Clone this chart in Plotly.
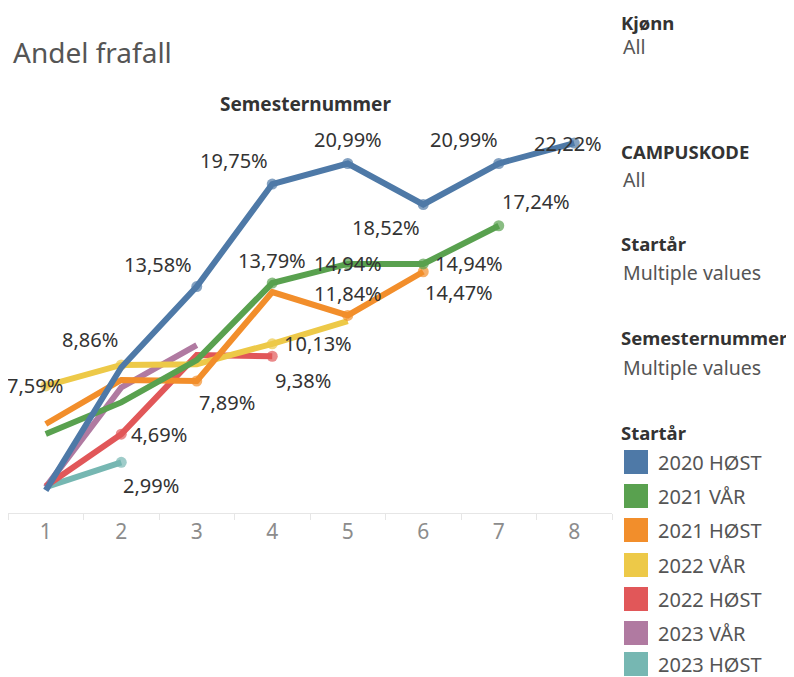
import plotly.graph_objects as go

# semester numbers on the x axis
semesters = [1, 2, 3, 4, 5, 6, 7, 8]

# dropout share (%) per start cohort
names = ["2020 HØST", "2021 VÅR", "2021 HØST", "2022 VÅR", "2022 HØST", "2023 VÅR", "2023 HØST"]
colors = ["#4e79a7", "#59a14f", "#f28e2b", "#edc948", "#e15759", "#b07aa1", "#76b7b2"]

v2020_host = [1.30, 8.70, 13.58, 19.75, 20.99, 18.52, 20.99, 22.22]
v2021_var = [4.70, 6.60, 9.15, 13.79, 14.94, 14.94, 17.24]
v2021_host = [5.30, 7.95, 7.89, 13.25, 11.84, 14.47]
v2022_var = [7.59, 8.86, 8.90, 10.13, 11.50]
v2022_host = [1.55, 4.69, 9.45, 9.38]
v2023_var = [1.50, 7.50, 10.05]
v2023_host = [1.50, 2.99]

series = [v2020_host, v2021_var, v2021_host, v2022_var, v2022_host, v2023_var, v2023_host]

# which points carry a label: (series index, point index, xshift, yshift)
labels = [
    (0, 2, -39, 22), (0, 3, -38, 24), (0, 4, 0, 24), (0, 5, -37, -23),
    (0, 6, -35, 24), (0, 7, -6, 0),
    (1, 3, 0, 23), (1, 4, 0, 0), (1, 5, 46, 0), (1, 6, 37, 24),
    (2, 2, 30, -21), (2, 4, 0, 22), (2, 5, 36, -21),
    (3, 0, -11, 0), (3, 1, -31, 25), (3, 3, 46, 0),
    (4, 1, 38, 0), (4, 3, 31, -24),
    (6, 1, 30, -23),
]

# page body has an 8px margin, so the figure sits at (8, 8)
OFF = 8
W, H = 786, 669
L, T, PW, PH = 0, 110, 604, 395


def px(x):
    return (x - OFF - L) / PW


def py(y):
    return (T + PH - (y - OFF)) / PH


def fmt(v):
    return f"{v:.2f}".replace(".", ",") + "%"


fig = go.Figure()

labelled = {(s, i) for s, i, _, _ in labels}

# draw last cohort first so 2020 HØST ends up on top
for k in reversed(range(len(series))):
    vals = series[k]
    sizes = [11 if (k, i) in labelled else 0 for i in range(len(vals))]
    fig.add_trace(go.Scatter(
        x=semesters[:len(vals)], y=vals, mode="lines+markers",
        line=dict(color=colors[k], width=6),
        marker=dict(color=colors[k], size=sizes, line=dict(width=0)),
        showlegend=False, hoverinfo="skip"))

for s, i, dx, dy in labels:
    fig.add_annotation(
        x=semesters[i], y=series[s][i], text=fmt(series[s][i]),
        showarrow=False, xshift=dx, yshift=dy,
        font=dict(size=20, color="#333333"))

text_col = "#555555"
head_col = "#333333"
side = [
    ("Kjønn", 22, True, head_col),
    ("All", 47, False, text_col),
    ("CAMPUSKODE", 151, True, head_col),
    ("All", 180, False, text_col),
    ("Startår", 243, True, head_col),
    ("Multiple values", 272, False, text_col),
    ("Semesternummer", 337, True, head_col),
    ("Multiple values", 367, False, text_col),
    ("Startår", 432, True, head_col),
]
for txt, y, bold, col in side:
    fig.add_annotation(
        x=px(619 if bold else 621), y=py(y), xref="paper", yref="paper",
        xanchor="left", yanchor="middle", showarrow=False,
        text=f"<b>{txt}</b>" if bold else txt,
        font=dict(size=18.5 if bold else 19.5, color=col))

# colour legend: swatch + label per cohort
legend_y = [462, 496, 530, 565, 599, 633, 664]
for k in range(len(names)):
    fig.add_shape(
        type="rect", xref="paper", yref="paper",
        x0=px(624), x1=px(648), y0=py(legend_y[k] - 12), y1=py(legend_y[k] + 12),
        fillcolor=colors[k], line=dict(width=0))
    fig.add_annotation(
        x=px(656), y=py(legend_y[k]), xref="paper", yref="paper",
        xanchor="left", yanchor="middle", showarrow=False, text=names[k],
        font=dict(size=20, color="#555555"))

fig.add_annotation(
    x=px(11), y=py(52), xref="paper", yref="paper", xanchor="left",
    yanchor="middle", showarrow=False, text="Andel frafall",
    font=dict(size=28, color="#555555"))

fig.add_annotation(
    x=px(305), y=py(104), xref="paper", yref="paper", xanchor="center",
    yanchor="middle", showarrow=False, text="<b>Semesternummer</b>",
    font=dict(size=19, color="#333333"))

fig.update_layout(
    width=W, height=H,
    margin=dict(l=L, r=W - L - PW, t=T, b=H - T - PH, autoexpand=False),
    paper_bgcolor="white", plot_bgcolor="white",
    font=dict(family="Noto Sans", color="#333333"),
    showlegend=False,
    xaxis=dict(
        range=[0.5, 8.5], tickvals=semesters, showgrid=False, zeroline=False,
        showline=True, linecolor="#e6e6e6", linewidth=1, ticks="",
        minor=dict(ticks="outside", tick0=0.5, dtick=1, ticklen=6,
                   tickcolor="#e6e6e6", showgrid=False),
        tickfont=dict(size=21, color="#8c8c8c")),
    yaxis=dict(
        range=[-0.06, 23.73], showgrid=False, zeroline=False,
        showline=True, linecolor="#f0f0f0", showticklabels=False, ticks=""),
)

fig.write_html("out.html")
